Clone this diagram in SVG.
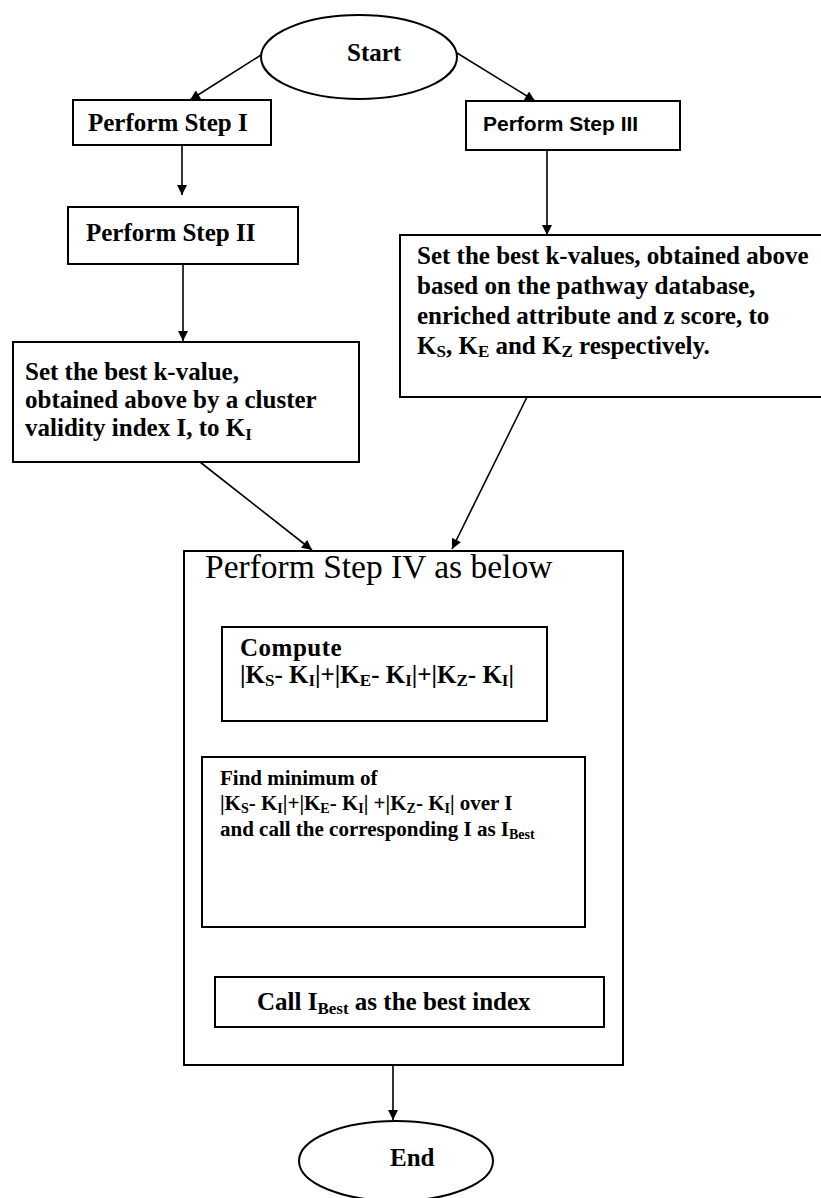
<svg xmlns="http://www.w3.org/2000/svg" width="821" height="1198" viewBox="0 0 821 1198">
<defs>
<marker id="ah" viewBox="0 0 10 10" refX="10" refY="5" markerWidth="11" markerHeight="10" markerUnits="userSpaceOnUse" orient="auto">
<path d="M0,0 L10,5 L0,10 Z" fill="#000"/>
</marker>
<style>
.box{fill:#fff;stroke:#000;stroke-width:2}
.con{fill:none;stroke:#000;stroke-width:1.6;marker-end:url(#ah)}
.t{font-family:"Liberation Serif","Times New Roman",serif;font-weight:bold;font-size:25px;fill:#000}
.s{font-size:17px}
.f{font-family:"Liberation Serif","Times New Roman",serif;font-weight:bold;font-size:21px;fill:#000}
.fs{font-size:14px}
.sans{font-family:"Liberation Sans",Arial,sans-serif;font-weight:bold;font-size:21px;fill:#000}
.big{font-family:"Liberation Serif","Times New Roman",serif;font-size:33.5px;fill:#000}
</style>
</defs>
<rect width="821" height="1198" fill="#fff"/>

<g id="connectors">
<line class="con" x1="261" y1="55" x2="190" y2="100"/>
<line class="con" x1="457" y1="53" x2="535" y2="101"/>
<line class="con" x1="182" y1="145" x2="182" y2="195"/>
<line class="con" x1="183" y1="264" x2="183" y2="341"/>
<line class="con" x1="547" y1="150" x2="547" y2="235"/>
<line class="con" x1="200" y1="462" x2="312" y2="550"/>
<line class="con" x1="527" y1="397" x2="452" y2="549"/>
<line class="con" x1="393" y1="725" x2="393" y2="757"/>
<line class="con" x1="395" y1="927" x2="395" y2="976"/>
<line class="con" x1="393" y1="1065" x2="393" y2="1120"/>
</g>

<g id="start">
<ellipse class="box" cx="359" cy="57" rx="98" ry="42"/>
<text class="t" x="347" y="61" font-size="24">Start</text>
</g>

<g id="step1">
<rect class="box" x="73" y="100" width="198" height="45"/>
<text class="t" x="88" y="131">Perform Step I</text>
</g>

<g id="step3">
<rect class="box" x="466" y="101" width="214" height="49"/>
<text class="sans" x="483" y="131">Perform Step III</text>
</g>

<g id="step2">
<rect class="box" x="68" y="207" width="230" height="57"/>
<text class="t" x="86" y="241">Perform Step II</text>
</g>

<g id="setKI">
<rect class="box" x="13" y="342" width="346" height="120"/>
<text class="t" x="25" y="380">Set the best k-value,</text>
<text class="t" x="25" y="408">obtained above by a cluster</text>
<text class="t" x="25" y="436">validity index I, to K<tspan class="s" dy="4">I</tspan></text>
</g>

<g id="setKSEZ">
<rect class="box" x="400" y="235" width="422" height="162"/>
<text class="t" x="417" y="264">Set the best k-values, obtained above</text>
<text class="t" x="417" y="294">based on the pathway database,</text>
<text class="t" x="417" y="324">enriched attribute and z score, to</text>
<text class="t" x="417" y="354">K<tspan class="s" dy="3">S</tspan><tspan dy="-3">, K</tspan><tspan class="s" dy="3">E</tspan><tspan dy="-3"> and K</tspan><tspan class="s" dy="3">Z</tspan><tspan dy="-3"> respectively.</tspan></text>
</g>

<g id="step4">
<rect class="box" x="184" y="551" width="439" height="514"/>
<text class="big" x="205" y="578">Perform Step IV as below</text>
</g>

<g id="compute">
<rect class="box" x="222" y="627" width="325" height="94"/>
<text class="t" x="240" y="656" letter-spacing="0.5">Compute</text>
<text class="t" x="240" y="683">|K<tspan class="s" dy="3">S</tspan><tspan dy="-3">- K</tspan><tspan class="s" dy="3">I</tspan><tspan dy="-3">|+|K</tspan><tspan class="s" dy="3">E</tspan><tspan dy="-3">- K</tspan><tspan class="s" dy="3">I</tspan><tspan dy="-3">|+|K</tspan><tspan class="s" dy="3">Z</tspan><tspan dy="-3">- K</tspan><tspan class="s" dy="3">I</tspan><tspan dy="-3">|</tspan></text>
</g>

<g id="findmin">
<rect class="box" x="202" y="757" width="383" height="170"/>
<text class="f" x="220" y="785">Find minimum of</text>
<text class="f" x="220" y="810">|K<tspan class="fs" dy="3">S</tspan><tspan dy="-3">- K</tspan><tspan class="fs" dy="3">I</tspan><tspan dy="-3">|+|K</tspan><tspan class="fs" dy="3">E</tspan><tspan dy="-3">- K</tspan><tspan class="fs" dy="3">I</tspan><tspan dy="-3">| +|K</tspan><tspan class="fs" dy="3">Z</tspan><tspan dy="-3">- K</tspan><tspan class="fs" dy="3">I</tspan><tspan dy="-3">| over I</tspan></text>
<text class="f" x="220" y="836">and call the corresponding I as I<tspan class="fs" dy="3">Best</tspan></text>
</g>

<g id="callbest">
<rect class="box" x="215" y="977" width="389" height="50"/>
<text class="t" x="257" y="1010">Call I<tspan class="s" dy="4">Best</tspan><tspan dy="-4"> as the best index</tspan></text>
</g>

<g id="end">
<ellipse class="box" cx="396" cy="1161" rx="97" ry="40"/>
<text class="t" x="390" y="1166" font-size="24">End</text>
</g>
</svg>
